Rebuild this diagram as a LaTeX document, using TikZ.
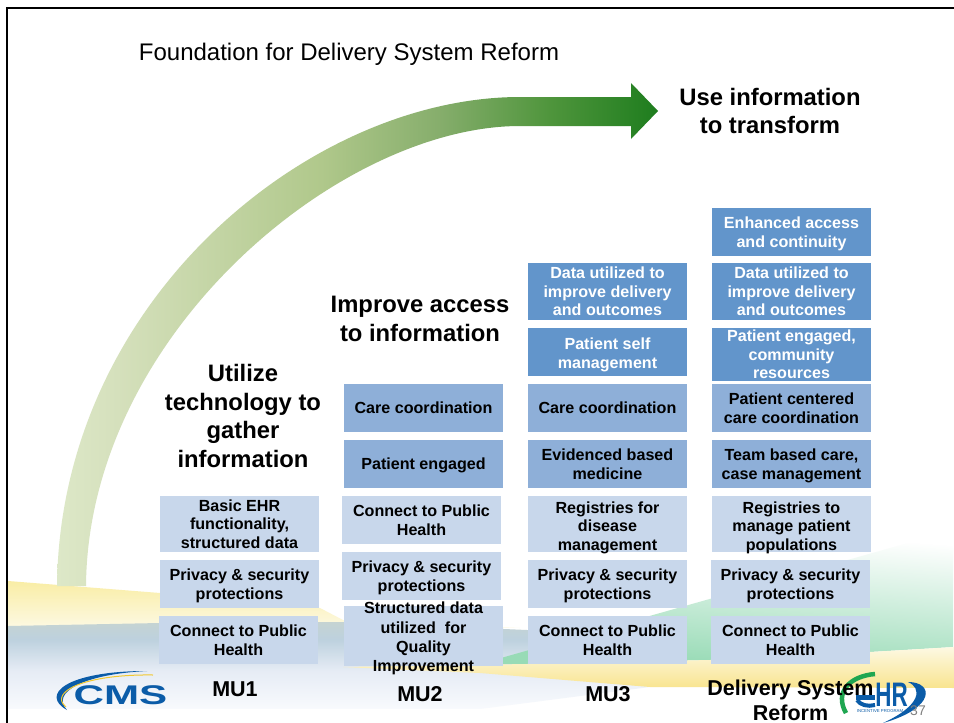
\documentclass[tikz,border=0pt]{standalone}
\usepackage{fontspec}
\setmainfont{Liberation Sans}
\usetikzlibrary{fadings}
\definecolor{lightblue}{HTML}{C8D7EB}
\definecolor{midblue}{HTML}{8EAFD8}
\definecolor{darkblue}{HTML}{6295CB}
\definecolor{cmsblue}{HTML}{0B5CA8}
\definecolor{cmsgold}{HTML}{F2C82E}
\definecolor{ehrgreen}{HTML}{1FA651}
\definecolor{bandyellow}{HTML}{F9EDA5}
\definecolor{paleyellow}{HTML}{FDF9E3}
\definecolor{deepyellow}{HTML}{F9E48F}
\definecolor{bandgreen}{HTML}{98DBB6}
\definecolor{arrowa}{HTML}{DDE8C8}
\definecolor{arrowb}{HTML}{D5E0BC}
\definecolor{arrowc}{HTML}{B0C88B}
\definecolor{arrowd}{HTML}{85AD6B}
\definecolor{arrowe}{HTML}{4F953C}
\definecolor{arrowf}{HTML}{1E7D1E}
\definecolor{bluea}{HTML}{F8FAFD}
\definecolor{blueb}{HTML}{E6ECF5}
\definecolor{bluec}{HTML}{BDD1DE}
\definecolor{blued}{HTML}{C5D3D2}
\pgfdeclarehorizontalshading{arrowshade}{100bp}{color(0bp)=(arrowa);color(25bp)=(arrowa);color(30bp)=(arrowb);color(47bp)=(arrowc);color(57bp)=(arrowd);color(66bp)=(arrowe);color(75bp)=(arrowf);color(100bp)=(arrowf)}
\pgfdeclareverticalshading{blueshade}{100bp}{color(0bp)=(bluea);color(25bp)=(bluea);color(47bp)=(blueb);color(65bp)=(bluec);color(75bp)=(blued);color(100bp)=(blued)}
\tikzfading[name=bandfade,top color=transparent!100,middle color=transparent!100,bottom color=transparent!0]
\tikzset{
    boxtext/.style={inner sep=0pt,align=center,font=\fontsize{16.1}{18.6}\selectfont\bfseries},
    lightbox/.style={boxtext,fill=lightblue,minimum width=159pt,minimum height=48pt},
    midbox/.style={boxtext,fill=midblue,minimum width=159pt,minimum height=48pt},
    darkbox/.style={boxtext,fill=darkblue,text=white,minimum width=159pt,minimum height=48pt},
    headtext/.style={inner sep=0pt,align=center,font=\fontsize{23.8}{28.4}\selectfont\bfseries},
    steptext/.style={inner sep=0pt,align=center,font=\fontsize{21.5}{25}\selectfont\bfseries},
}
\begin{document}
\begin{tikzpicture}[x=1pt,y=-1pt]
    \useasboundingbox (0,0) rectangle (954,723);
    \fill[white] (0,0) rectangle (954,723);
    \shade[top color=bandyellow,bottom color=paleyellow] (8,581) -- (160,593) -- (320,608) -- (343,620) -- (520,628) -- (343,626) -- (8,626) -- cycle;
    \shade[shading=blueshade] (8,626) -- (160,623) -- (343,622) -- (527,630) -- (650,648) -- (650,687) -- (480,709) -- (8,709) -- cycle;
    \fill[bandgreen,path fading=bandfade,fading angle=-15] (480,664) -- (954,530) -- (954,647) -- (870,652) -- (710,660) -- (527,664) -- cycle;
    \shade[top color=paleyellow,bottom color=deepyellow] (343,667) -- (527,664) -- (710,660) -- (870,652) -- (954,647) -- (954,688) -- (650,687) -- (480,673) -- cycle;
    \fill[white] (8,709) rectangle (954,723);
    \draw[line width=2pt] (7,723) -- (7,8) -- (954,8);

    \shade[shading=arrowshade]
        (57,586) .. controls (60,300) and (310,97) .. (520,97) -- (631,97) -- (631,83) -- (658,111) -- (631,139) -- (631,126)
        -- (520,126) .. controls (340,126) and (88,335) .. (86,586) -- cycle;

    \node[inner sep=0pt,font=\fontsize{24}{28}\selectfont] (title) at (349,54) {Foundation for Delivery System Reform};
    \node[headtext] (usetext) at (770,111) {Use information\\to transform};
    \node[headtext] (accesstext) at (420,319) {Improve access\\to information};
    \node[headtext] (gathertext) at (243,416) {Utilize\\technology to\\gather\\information};

    \node[lightbox] (mua) at (238.5,640) {Connect to Public\\Health};
    \node[lightbox] (mub) at (239.5,584) {};
    \node[boxtext] (mubtext) at ([yshift=-2pt]mub) {Privacy \& security\\protections};
    \node[lightbox,minimum height=56pt] (muc) at (239.5,524) {Basic EHR\\functionality,\\structured data};

    \node[lightbox,minimum height=60pt] (mva) at (423.5,636) {};
    \node[boxtext,font=\fontsize{16.1}{19.2}\selectfont\bfseries] (mvatext) at ([yshift=-2.5pt]mva) {Structured data\\utilized\ \ for\\Quality\\Improvement};
    \node[lightbox] (mvb) at (421.5,576) {};
    \node[boxtext] (mvbtext) at ([yshift=-2pt]mvb) {Privacy \& security\\protections};
    \node[lightbox] (mvc) at (421.5,520) {Connect to Public\\Health};
    \node[midbox] (mvd) at (423.5,464) {};
    \node[boxtext] (mvdtext) at ([yshift=-1.5pt]mvd) {Patient engaged};
    \node[midbox] (mve) at (423.5,408) {Care coordination};

    \node[lightbox] (mwa) at (607.5,640) {Connect to Public\\Health};
    \node[lightbox] (mwb) at (607.5,584) {};
    \node[boxtext] (mwbtext) at ([yshift=-2pt]mwb) {Privacy \& security\\protections};
    \node[lightbox,minimum height=56pt] (mwc) at (607.5,524) {};
    \node[boxtext] (mwctext) at ([yshift=-3.5pt]mwc) {Registries for\\disease\\management};
    \node[midbox] (mwd) at (607.5,464) {Evidenced based\\medicine};
    \node[midbox] (mwe) at (607.5,408) {Care coordination};
    \node[darkbox] (mwf) at (607.5,352) {};
    \node[boxtext,text=white] (mwftext) at ([yshift=-3pt]mwf) {Patient self\\management};
    \node[darkbox,minimum height=57pt] (mwg) at (607.5,291.5) {Data utilized to\\improve delivery\\and outcomes};

    \node[lightbox] (dsa) at (790.5,640) {Connect to Public\\Health};
    \node[lightbox] (dsb) at (790.5,584) {};
    \node[boxtext] (dsbtext) at ([yshift=-2pt]dsb) {Privacy \& security\\protections};
    \node[lightbox,minimum height=56pt] (dsc) at (791.5,524) {};
    \node[boxtext] (dsctext) at ([yshift=-3.5pt]dsc) {Registries to\\manage patient\\populations};
    \node[midbox] (dsd) at (791.5,464) {};
    \node[boxtext] (dsdtext) at ([yshift=-2pt]dsd) {Team based care,\\case management};
    \node[midbox] (dse) at (791.5,408) {Patient centered\\care coordination};
    \node[darkbox,minimum height=53pt] (dsf) at (791.5,354.5) {};
    \node[boxtext,text=white] (dsftext) at (dsf) {Patient engaged,\\community\\resources};
    \node[darkbox,minimum height=57pt] (dsg) at (791.5,291.5) {Data utilized to\\improve delivery\\and outcomes};
    \node[darkbox] (dsh) at (791.5,232) {};
    \node[boxtext,text=white] (dshtext) at ([yshift=-2pt]dsh) {Enhanced access\\and continuity};

    \fill[cmsblue] (67,710) .. controls (40,695) and (65,671) .. (147,671) .. controls (85,674) and (50,692) .. (67,710) -- cycle;
    \draw[cmsgold,line width=1pt] (66,707) .. controls (48,692) and (85,674) .. (153,675);
    \node[inner sep=0pt,text=cmsblue,xscale=1.56,font=\fontsize{27}{27}\selectfont\bfseries] (cmslogo) at (120.5,695) {CMS};

    \draw[ehrgreen,line width=4.5pt] (875,674) .. controls (850,676) and (834,692) .. (846,713);
    \draw[cmsblue,line width=5pt] (856,697) -- (875,697);
    \draw[cmsblue,line width=4pt] (857,700) .. controls (860,705) and (868,707) .. (875,705);
    \node[inner sep=0pt,text=cmsblue,xscale=0.66,font=\fontsize{34}{34}\selectfont\bfseries] (hrlogo) at (891.5,695) {HR};
    \fill[cmsblue] (908,682) .. controls (934,682) and (936,708) .. (883,723) .. controls (922,705) and (922,688) .. (908,682) -- cycle;
    \node[inner sep=0pt,text=cmsblue,font=\fontsize{4.3}{5}\selectfont] (ehrtext) at (880,711) {INCENTIVE PROGRAM};
    \node[inner sep=0pt,text=black!50,font=\fontsize{14}{14}\selectfont] (pagenum) at (918,711) {37};

    \node[steptext] (mulabel) at (235,689) {MU1};
    \node[steptext] (mvlabel) at (420,694) {MU2};
    \node[steptext] (mwlabel) at (608,694) {MU3};
    \node[steptext] (dslabel) at (790.5,700) {Delivery System\\Reform};
\end{tikzpicture}
\end{document}
